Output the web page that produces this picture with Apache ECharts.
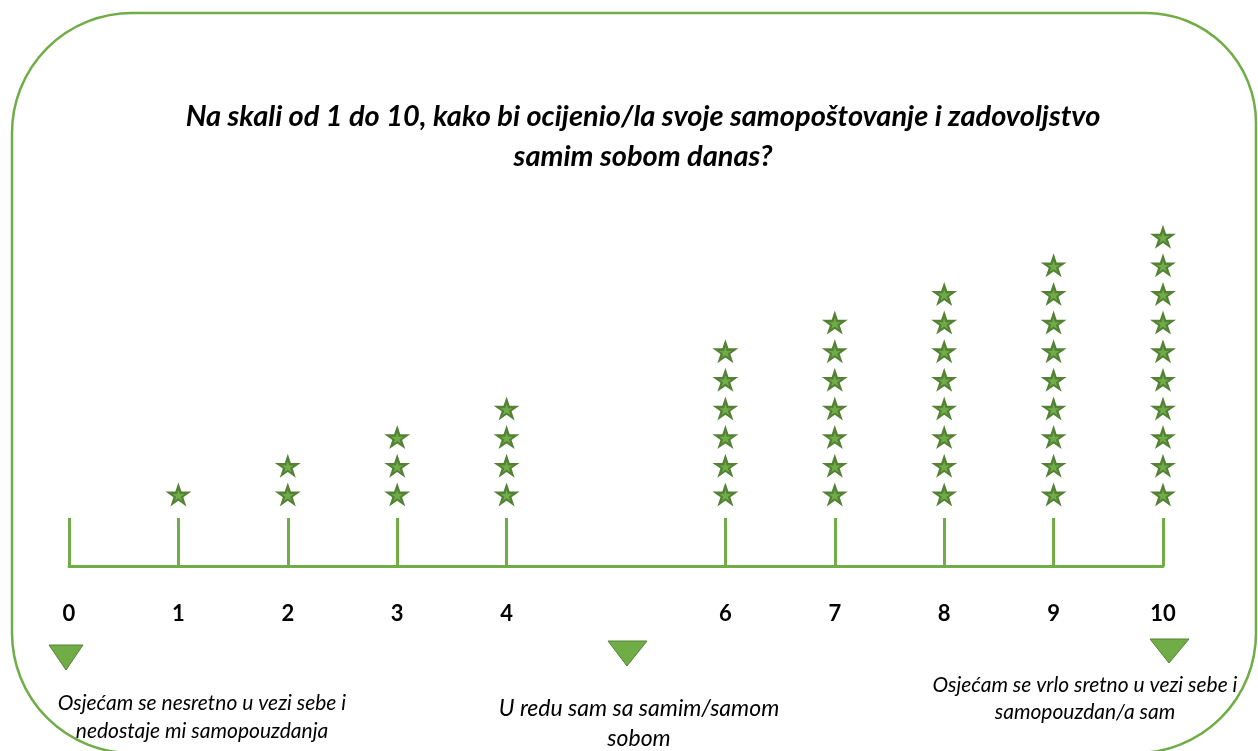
<!DOCTYPE html>
<html>
<head>
<meta charset="utf-8">
<script src="https://cdn.jsdelivr.net/npm/echarts@6/dist/echarts.min.js"></script>
<style>
  html, body { margin: 0; padding: 0; background: #fff; }
  #chart { width: 1258px; height: 751px; }
</style>
</head>
<body>
<div id="chart"></div>
<script>
/* ---------------- data ---------------- */
// scale points 0..10 (5 has no tick / label in the original)
var categories = ['0', '1', '2', '3', '4', '5', '6', '7', '8', '9', '10'];
var tickLabels = ['0', '1', '2', '3', '4', '', '6', '7', '8', '9', '10'];
// number of stars above each scale point
var starCounts = [0, 1, 2, 3, 4, 0, 6, 7, 8, 9, 10];

var titleText = 'Na skali od 1 do 10, kako bi ocijenio/la svoje samopoštovanje i zadovoljstvo\nsamim sobom danas?';
var captionLow = 'Osjećam se nesretno u vezi sebe i\nnedostaje mi samopouzdanja';
var captionMid = 'U redu sam sa samim/samom\nsobom';
var captionHigh = 'Osjećam se vrlo sretno u vezi sebe i\nsamopouzdan/a sam';

/* ---------------- chart ---------------- */
var green = '#70ad47';
var darkGreen = '#548235';
var starPath = 'path://M50 0 L61.23 34.55 L97.55 34.55 L68.16 55.9 L79.39 90.45 L50 69.1 L20.61 90.45 L31.84 55.9 L2.45 34.55 L38.77 34.55 Z';

// one point per star, stacked 1..n above each scale point
var stars = [];
starCounts.forEach(function (n, i) {
  for (var k = 1; k <= n; k++) stars.push([i, k]);
});

var chart = echarts.init(document.getElementById('chart'));

chart.setOption({
  animation: false,
  title: {
    text: titleText,
    left: 638,
    textAlign: 'center',
    top: 92,
    textStyle: {
      fontFamily: 'Lato',
      fontSize: 29,
      fontWeight: 'bold',
      fontStyle: 'italic',
      color: '#000',
      lineHeight: 40
    }
  },
  grid: { left: 69, right: 95, top: 208, bottom: 185, outerBoundsMode: 'none', containLabel: false },
  xAxis: {
    type: 'category',
    data: categories,
    boundaryGap: false,
    axisLine: { onZero: false, lineStyle: { color: green, width: 3 } },
    axisTick: {
      inside: true,
      length: 48,
      interval: function (idx) { return idx !== 5; },
      lineStyle: { color: green, width: 3 }
    },
    axisLabel: {
      margin: 37,
      interval: 0,
      formatter: function (v, idx) { return tickLabels[idx]; },
      fontFamily: 'Lato',
      fontSize: 22,
      fontWeight: 'bold',
      color: '#000'
    },
    splitLine: { show: false }
  },
  yAxis: {
    type: 'value',
    min: -1.5,
    max: 11,
    show: false
  },
  series: [
    {
      type: 'scatter',
      data: stars,
      symbol: starPath,
      symbolSize: [26, 24],
      itemStyle: { color: darkGreen, opacity: 1 }
    },
    {
      type: 'scatter',
      data: stars,
      symbol: starPath,
      symbolSize: [12, 11],
      symbolOffset: [0, 1],
      itemStyle: { color: green, opacity: 1 }
    }
  ],
  graphic: [
    {
      type: 'rect',
      shape: { x: 12, y: 13, width: 1244, height: 740, r: [120, 110, 120, 120] },
      style: { fill: 'none', stroke: green, lineWidth: 2.5 },
      silent: true
    },
    {
      type: 'polygon',
      shape: { points: [[49, 645], [83, 645], [66, 670]] },
      style: { fill: green, stroke: darkGreen, lineWidth: 1 }
    },
    {
      type: 'polygon',
      shape: { points: [[608, 641], [647, 641], [627, 666]] },
      style: { fill: green, stroke: darkGreen, lineWidth: 1 }
    },
    {
      type: 'polygon',
      shape: { points: [[1150, 639], [1189, 639], [1169, 663]] },
      style: { fill: green, stroke: darkGreen, lineWidth: 1 }
    },
    {
      type: 'text',
      x: 202, y: 689,
      style: {
        text: captionLow, textAlign: 'center', fill: '#000',
        font: 'italic 21px Lato', lineHeight: 28
      }
    },
    {
      type: 'text',
      x: 639, y: 694,
      style: {
        text: captionMid, textAlign: 'center', fill: '#000',
        font: 'italic 23px Lato', lineHeight: 30
      }
    },
    {
      type: 'text',
      x: 1085, y: 672,
      style: {
        text: captionHigh, textAlign: 'center', fill: '#000',
        font: 'italic 21px Lato', lineHeight: 27
      }
    }
  ]
});

window.onresize = function () {
  chart.resize();
};
</script>
</body>
</html>
